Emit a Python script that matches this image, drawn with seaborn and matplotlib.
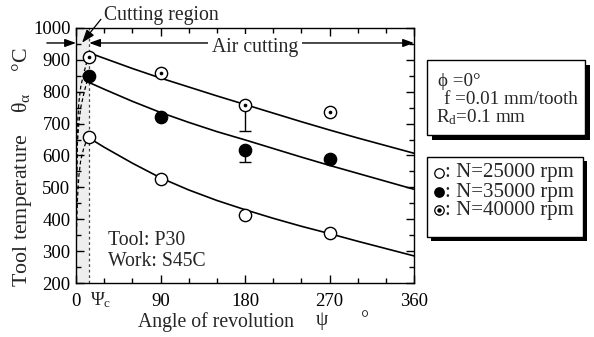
import matplotlib
matplotlib.use("Agg")
import matplotlib.pyplot as plt
from matplotlib.patches import Rectangle
from matplotlib.lines import Line2D
from matplotlib.ticker import MultipleLocator
import pandas as pd
import seaborn as sns

# ---- data -------------------------------------------------------------
psi_c = 14  # end of the cutting region (deg)

psi_meas = [psi_c, 90, 180, 270]
temp_25000 = [658, 527, 414, 358]
temp_35000 = [848, 722, 616, 590]
temp_40000 = [909, 860, 757, 738]

# scatter at 180 deg (lower extent only)
err_psi = [180, 180]
err_top = [757, 616]
err_low = [677, 581]

# calculated temperature decay during air cutting
psi_curve = [psi_c, 30, 60, 90, 120, 150, 180, 210, 240, 270, 300, 330, 360]
curve_25000 = [655, 626, 576, 530, 492, 459, 430, 403, 378, 355, 331, 308, 285]
curve_35000 = [829, 808, 770, 735, 704, 675, 649, 622, 595, 569, 544, 519, 494]
curve_40000 = [922, 905, 873, 843, 815, 787, 760, 733, 706, 680, 655, 631, 607]

# temperature rise inside the cutting region
psi_heat = [0, 0.5, 1.5, 3, 5, 8, 11, psi_c]
heat_25000 = [200, 360, 460, 535, 585, 620, 645, 658]
heat_35000 = [200, 480, 640, 700, 750, 790, 825, 848]
heat_40000 = [200, 520, 690, 765, 815, 855, 888, 909]

legend_labels = [": N=25000 rpm", ": N=35000 rpm", ": N=40000 rpm"]
cond_labels = ["ϕ =0°", "f =0.01 mm/tooth", "R$_\\mathrm{d}$=0.1 mm"]

# ---- style ------------------------------------------------------------
sns.set_theme(style="ticks")
plt.rcParams["font.family"] = ["Liberation Serif", "DejaVu Serif"]
plt.rcParams["mathtext.fontset"] = "custom"
plt.rcParams["mathtext.rm"] = "Liberation Serif"
plt.rcParams["mathtext.it"] = "Liberation Serif:italic"
plt.rcParams["axes.linewidth"] = 1.0

W, H = 594, 337
fig = plt.figure(figsize=(W / 100, H / 100), dpi=100)
ax = fig.add_axes([76 / W, 1 - 283 / H, (414 - 76) / W, (283 - 28) / H])


def fx(px):
    return px / W


def fy(py):
    return 1 - py / H


# cutting region
ax.axvspan(0, psi_c, color="#eeeeee", zorder=0, lw=0)
ax.axvline(psi_c, color="#444444", lw=0.9, ls=(0, (2.2, 2.2)), zorder=1)

# heating (dashed) and cooling (solid) curves
for y in (heat_25000, heat_35000, heat_40000):
    sns.lineplot(x=psi_heat, y=y, ax=ax, color="black", lw=0.9,
                 linestyle=(0, (3, 2)), sort=False, estimator=None, zorder=2)
for y in (curve_25000, curve_35000, curve_40000):
    sns.lineplot(x=psi_curve, y=y, ax=ax, color="black", lw=1.2,
                 sort=False, estimator=None, zorder=2)

# lower scatter bars
for x, t, b in zip(err_psi, err_top, err_low):
    ax.errorbar([x], [t], yerr=[[t - b], [0]], fmt="none", ecolor="black",
                elinewidth=1.0, capsize=4.5, capthick=1.0, zorder=3)

# measured points
df = pd.DataFrame({"psi": psi_meas * 3,
                   "temp": temp_25000 + temp_35000 + temp_40000,
                   "N": ["25000"] * 4 + ["35000"] * 4 + ["40000"] * 4})
ms = 78
sns.scatterplot(data=df[df.N == "25000"], x="psi", y="temp", ax=ax, s=ms,
                color="white", edgecolor="black", linewidth=1.0, zorder=5)
sns.scatterplot(data=df[df.N == "35000"], x="psi", y="temp", ax=ax, s=ms,
                color="black", edgecolor="black", linewidth=1.0, zorder=5)
sns.scatterplot(data=df[df.N == "40000"], x="psi", y="temp", ax=ax, s=ms,
                color="white", edgecolor="black", linewidth=1.0, zorder=5)
sns.scatterplot(data=df[df.N == "40000"], x="psi", y="temp", ax=ax, s=7,
                color="black", edgecolor="black", linewidth=0, zorder=6)

# axes
ax.set_xlim(0, 360)
ax.set_ylim(200, 1000)
ax.set_xticks([0, 90, 180, 270, 360])
ax.xaxis.set_minor_locator(MultipleLocator(30))
ax.set_yticks(range(200, 1001, 100))
ax.yaxis.set_minor_locator(MultipleLocator(50))
ax.tick_params(which="both", direction="in", top=True, right=True,
               colors="black", width=1.0, labelsize=13.5)
ax.tick_params(which="major", length=6)
ax.tick_params(which="minor", length=3.5)
ax.tick_params(axis="x", pad=7)
ax.tick_params(axis="y", pad=4)
ax.set_xlabel("")
ax.set_ylabel("")
for s in ax.spines.values():
    s.set_color("black")

fs = 14.2
ax.text(26.5, 147, "Ψ$_\\mathrm{c}$", fontsize=13.5, ha="center", va="center",
        clip_on=False)

# region arrows
arrow = dict(arrowstyle="-|>,head_length=0.55,head_width=0.2", color="black",
             lw=1.0, shrinkA=0, shrinkB=0)
ax.annotate("", xy=(0, 953), xytext=(-31, 953), arrowprops=arrow,
            annotation_clip=False)
ax.annotate("", xy=(psi_c, 953), xytext=(360, 953),
            arrowprops=dict(arrowstyle="<|-|>,head_length=0.55,head_width=0.2",
                            color="black", lw=1.0, shrinkA=0, shrinkB=0),
            annotation_clip=False)
ax.text(190.5, 940, "Air cutting", fontsize=fs, ha="center", va="center",
        bbox=dict(facecolor="white", edgecolor="none", pad=2.5), zorder=4)
ax.annotate("Cutting region", xy=(6.5, 954), xytext=(30, 1040),
            fontsize=fs, ha="left", va="center", annotation_clip=False,
            arrowprops=dict(arrowstyle="-|>,head_length=0.55,head_width=0.2",
                            color="black", lw=0.9, shrinkA=0, shrinkB=0,
                            relpos=(0, 0.5)))

ax.text(34, 334, "Tool: P30", fontsize=fs, ha="left", va="center")
ax.text(34, 268, "Work: S45C", fontsize=fs, ha="left", va="center")

# axis titles
fig.text(fx(22), fy(167), "Tool temperature    θ$_\\mathrm{α}$    °C",
         rotation=90, fontsize=15.8, ha="center", va="center")
fig.text(fx(216), fy(322), "Angle of revolution", fontsize=fs,
         ha="center", va="center")
fig.text(fx(322), fy(321), "ψ", fontsize=fs, ha="center", va="center")
fig.text(fx(365), fy(321), "°", fontsize=fs, ha="center", va="center")


# boxes with drop shadow
def shadow_box(x0, y0, x1, y1, off):
    fig.add_artist(Rectangle((fx(x0 + off), fy(y1 + off)), (x1 - x0) / W,
                             (y1 - y0) / H, transform=fig.transFigure,
                             facecolor="black", edgecolor="none", zorder=1))
    fig.add_artist(Rectangle((fx(x0), fy(y1)), (x1 - x0) / W, (y1 - y0) / H,
                             transform=fig.transFigure, facecolor="white",
                             edgecolor="black", lw=1.0, zorder=2))


shadow_box(427, 60, 585, 135, 5)
shadow_box(427, 157, 583, 237, 4)

for (px, py), s in zip([(438, 81), (444, 99), (436, 117)], cond_labels):
    fig.text(fx(px), fy(py), s, fontsize=13.7, ha="left", va="center",
             zorder=3)

rows = [173, 192, 210]
styles = [("white", "black"), ("black", "black"), ("white", "black")]
for i, (py, lab, (fc, ec)) in enumerate(zip(rows, legend_labels, styles)):
    fig.add_artist(Line2D([fx(439)], [fy(py)], transform=fig.transFigure,
                          marker="o", markersize=6.8, markerfacecolor=fc,
                          markeredgecolor=ec, markeredgewidth=0.9,
                          linestyle="none", zorder=3))
    if i == 2:
        fig.add_artist(Line2D([fx(439)], [fy(py)], transform=fig.transFigure,
                              marker="o", markersize=2.2, color="black",
                              linestyle="none", zorder=4))
    fig.text(fx(445), fy(py), lab, fontsize=15, ha="left", va="center",
             zorder=3)

fig.savefig("out.png", dpi=100)
